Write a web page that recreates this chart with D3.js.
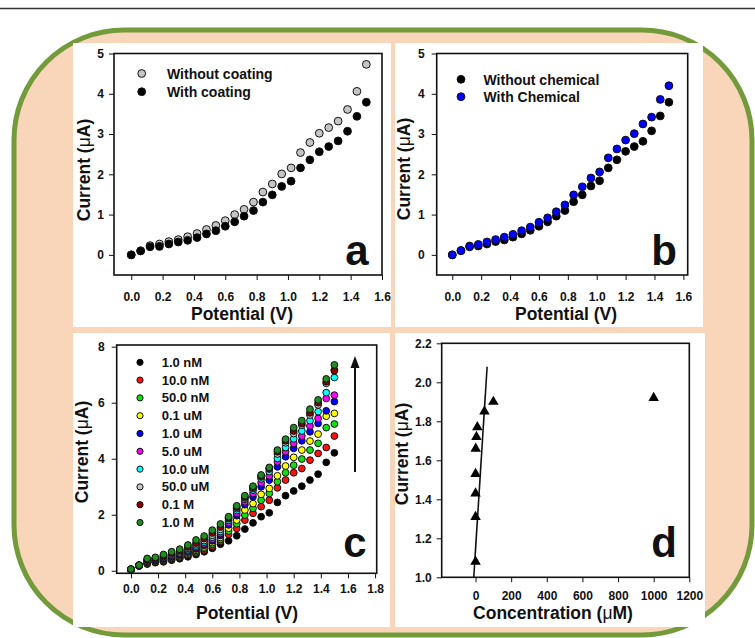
<!DOCTYPE html>
<html><head><meta charset="utf-8">
<script src="https://cdn.jsdelivr.net/npm/d3@7"></script>
<style>
html,body{margin:0;padding:0;background:#fff;}
svg{display:block;}
text{font-family:"Liberation Sans",Arial,Helvetica,sans-serif;font-weight:bold;fill:#111;}
</style></head><body>
<svg id="chart" width="755" height="638"></svg>
<script>
// ---------------- DATA ----------------
const potential = [0,0.06,0.12,0.18,0.24,0.30,0.36,0.42,0.48,0.54,0.60,0.66,0.72,0.78,0.84,0.90,0.96,1.02,1.08,1.14,1.20,1.26,1.32,1.38,1.44,1.50];

// panel a
const withoutCoating = [0,0.10,0.23,0.27,0.33,0.38,0.45,0.53,0.63,0.73,0.85,1.00,1.13,1.31,1.56,1.76,2.01,2.16,2.54,2.79,3.02,3.16,3.32,3.61,4.06,4.73];
const withCoating    = [0,0.10,0.20,0.21,0.27,0.32,0.36,0.43,0.52,0.60,0.71,0.82,0.96,1.10,1.31,1.49,1.70,1.83,2.16,2.36,2.56,2.69,2.83,3.07,3.44,3.79];

// panel b
const withoutChemical = [0,0.10,0.20,0.22,0.27,0.33,0.37,0.44,0.52,0.61,0.71,0.82,0.96,1.10,1.32,1.49,1.71,1.84,2.16,2.36,2.57,2.69,2.82,3.08,3.45,3.79];
const withChemical    = [0,0.11,0.22,0.26,0.32,0.38,0.44,0.51,0.60,0.69,0.81,0.92,1.07,1.24,1.49,1.69,1.91,2.06,2.41,2.63,2.85,3.01,3.25,3.42,3.86,4.20];

// panel c
const concLabelsC = ["1.0 nM","10.0 nM","50.0 nM","0.1 uM","1.0 uM","5.0 uM","10.0 uM","50.0 uM","0.1 M","1.0 M"];
const c_1nM   = [0.02,0.17,0.24,0.29,0.32,0.38,0.43,0.50,0.58,0.68,0.80,0.95,1.07,1.25,1.49,1.71,1.93,2.07,2.44,2.68,2.85,3.02,3.24,3.45,3.87,4.21];
const c_10nM  = [0.03,0.17,0.26,0.31,0.35,0.41,0.47,0.55,0.63,0.74,0.88,1.05,1.30,1.51,1.81,2.05,2.29,2.52,2.96,3.24,3.50,3.65,3.95,4.19,4.40,4.81];
const c_50nM  = [0.03,0.18,0.28,0.33,0.38,0.44,0.50,0.59,0.68,0.80,0.95,1.12,1.42,1.68,1.99,2.23,2.52,2.76,3.18,3.50,3.77,3.99,4.31,4.55,5.11,5.24];
const c_01uM  = [0.04,0.18,0.30,0.35,0.41,0.47,0.54,0.63,0.73,0.85,1.01,1.19,1.52,1.81,2.17,2.40,2.73,2.94,3.39,3.74,4.05,4.31,4.63,4.88,5.52,5.62];
const c_1uM   = [0.04,0.19,0.32,0.37,0.43,0.50,0.57,0.67,0.78,0.91,1.07,1.26,1.64,1.97,2.36,2.64,3.00,3.24,3.71,4.07,4.37,4.64,4.96,5.26,5.71,6.04];
const c_5uM   = [0.05,0.19,0.34,0.39,0.46,0.53,0.61,0.71,0.83,0.96,1.13,1.33,1.72,2.06,2.46,2.76,3.14,3.39,3.89,4.25,4.55,4.81,5.17,5.44,6.15,6.27];
const c_10uM  = [0.05,0.19,0.36,0.41,0.49,0.56,0.64,0.75,0.88,1.02,1.20,1.40,1.80,2.15,2.55,2.88,3.28,3.54,4.01,4.40,4.71,4.99,5.36,5.68,6.36,6.90];
const c_50uM  = [0.05,0.20,0.38,0.43,0.51,0.59,0.68,0.80,0.93,1.08,1.27,1.48,1.86,2.22,2.60,2.94,3.35,3.63,4.17,4.57,4.90,5.20,5.56,5.92,6.69,7.17];
const c_01M   = [0.06,0.20,0.40,0.45,0.54,0.63,0.72,0.85,0.99,1.15,1.35,1.56,1.89,2.27,2.63,2.98,3.38,3.66,4.25,4.64,4.99,5.26,5.64,6.00,6.75,7.14];
const c_1M    = [0.06,0.20,0.44,0.48,0.58,0.68,0.77,0.92,1.10,1.24,1.45,1.67,1.93,2.32,2.68,3.02,3.42,3.69,4.31,4.70,5.11,5.36,5.77,6.10,6.85,7.35];
const seriesC = [c_1nM,c_10nM,c_50nM,c_01uM,c_1uM,c_5uM,c_10uM,c_50uM,c_01M,c_1M];

// panel d
const concentrationD = [0.001,0.01,0.05,0.1,1,5,10,50,100,1000];
const currentD       = [1.08,1.31,1.43,1.53,1.66,1.72,1.77,1.85,1.90,1.92];
const fitConc    = [-10,65];
const fitCurrent = [1.0,2.08];

// tick values
const ticksPotAB = [0,0.2,0.4,0.6,0.8,1.0,1.2,1.4,1.6];
const ticksPotC  = [0,0.2,0.4,0.6,0.8,1.0,1.2,1.4,1.6,1.8];
const ticksCurAB = [0,1,2,3,4,5];
const ticksCurC  = [0,2,4,6,8];
const ticksConcD = [0,200,400,600,800,1000,1200];
const ticksCurD  = [1.0,1.2,1.4,1.6,1.8,2.0,2.2];

// ---------------- STYLE ----------------
const colorsC = ["#000000","#ff1010","#10e010","#ffff00","#0000ff","#ff00ff","#00ffff","#c8c8c8","#8b0000","#1e8c1e"];
const svg = d3.select("#chart");

svg.append("line").attr("x1",0).attr("x2",755).attr("y1",8.5).attr("y2",8.5)
  .attr("stroke","#333").attr("stroke-width",1.5);
svg.append("rect").attr("x",14).attr("y",30).attr("width",738).attr("height",605)
  .attr("rx",110).attr("ry",110).attr("fill","#f9d5b9").attr("stroke","#739b3b").attr("stroke-width",5);

[[73,43,318,284],[395,43,308,284],[73,333,317,294],[395,333,310,294]].forEach(r=>{
  svg.append("rect").attr("x",r[0]).attr("y",r[1]).attr("width",r[2]).attr("height",r[3]).attr("fill","#fff");
});

function makePanel(o){
  const x = d3.scaleLinear().domain(o.xDom).range([o.x0,o.x1]);
  const y = d3.scaleLinear().domain(o.yDom).range([o.y1,o.y0]);
  const g = svg.append("g");
  const xa = g.append("g").attr("transform",`translate(0,${o.y1})`).attr("color","#111")
    .call(d3.axisBottom(x).tickValues(o.xTicks).tickFormat(o.xFmt).tickSize(5).tickSizeOuter(0).tickPadding(o.xPad));
  xa.select(".domain").remove();
  xa.selectAll("text").style("font-size","12px");
  const ya = g.append("g").attr("transform",`translate(${o.x0},0)`).attr("color","#111")
    .call(d3.axisLeft(y).tickValues(o.yTicks).tickFormat(o.yFmt).tickSize(5).tickSizeOuter(0).tickPadding(o.yPad));
  ya.select(".domain").remove();
  ya.selectAll("text").style("font-size","12px");
  g.append("rect").attr("x",o.x0).attr("y",o.y0).attr("width",o.x1-o.x0).attr("height",o.y1-o.y0)
    .attr("fill","none").attr("stroke","#111").attr("stroke-width",1.6);
  // titles
  const xt = g.append("text").attr("x",o.xtX).attr("y",o.xtY).attr("text-anchor","middle").style("font-size","17.5px");
  xt.append("tspan").text(o.xTitle[0]);
  if (o.xTitle.length>1){ xt.append("tspan").style("font-weight","normal").text(o.xTitle[1]); xt.append("tspan").text(o.xTitle[2]); }
  const yt = g.append("text").attr("transform",`translate(${o.ytX},${o.ytY}) rotate(-90)`).attr("text-anchor","middle").style("font-size","17.5px");
  yt.append("tspan").text("Current (");
  yt.append("tspan").style("font-weight","normal").text("\u03bc");
  yt.append("tspan").text("A)");
  g.append("text").attr("x",o.lx).attr("y",o.ly).attr("text-anchor","middle").style("font-size","42px").text(o.letter);
  return {x,y,g};
}

const fmt1 = d3.format(".1f"), fmtD = d3.format("d");

// ---- panel a
const A = makePanel({x0:114,x1:382,y0:53.5,y1:275,xDom:[-0.11,1.6],yDom:[-0.5,5],xTicks:ticksPotAB,yTicks:ticksCurAB,
  xFmt:fmt1,yFmt:fmtD,xPad:12,yPad:5,xTitle:["Potential (V)"],xtX:242,xtY:320,ytX:90,ytY:170,letter:"a",lx:357,ly:265});
[[withoutCoating,"#c4c4c4"],[withCoating,"#000"]].forEach(([s,c])=>{
  A.g.selectAll(null).data(potential).enter().append("circle")
    .attr("cx",(d)=>A.x(d)).attr("cy",(d,i)=>A.y(s[i])).attr("r",3.9)
    .attr("fill",c).attr("stroke","#111").attr("stroke-width",1);
});
[["Without coating","#c4c4c4",73.5,78.5],["With coating","#000",91.7,97]].forEach(([t,c,cy,ty])=>{
  A.g.append("circle").attr("cx",141.7).attr("cy",cy).attr("r",3.9).attr("fill",c).attr("stroke","#111");
  A.g.append("text").attr("x",167).attr("y",ty).style("font-size","14px").text(t);
});

// ---- panel b
const B = makePanel({x0:436.7,x1:687.7,y0:53.5,y1:275,xDom:[-0.108,1.63],yDom:[-0.5,5],xTicks:ticksPotAB,yTicks:ticksCurAB,
  xFmt:fmt1,yFmt:fmtD,xPad:12,yPad:7,xTitle:["Potential (V)"],xtX:566,xtY:320,ytX:410,ytY:169,letter:"b",lx:664,ly:265});
[[withoutChemical,"#000"],[withChemical,"#0000ff"]].forEach(([s,c])=>{
  B.g.selectAll(null).data(potential).enter().append("circle")
    .attr("cx",(d)=>B.x(d)).attr("cy",(d,i)=>B.y(s[i])).attr("r",3.9)
    .attr("fill",c).attr("stroke","#111").attr("stroke-width",1);
});
[["Without chemical","#000",79.3,84.5],["With Chemical","#0000ff",96.7,102]].forEach(([t,c,cy,ty])=>{
  B.g.append("circle").attr("cx",461).attr("cy",cy).attr("r",3.9).attr("fill",c).attr("stroke","#111");
  B.g.append("text").attr("x",483.5).attr("y",ty).style("font-size","14px").text(t);
});

// ---- panel c
const C = makePanel({x0:116.7,x1:376.7,y0:345,y1:573.3,xDom:[-0.105,1.812],yDom:[-0.09,8.06],xTicks:ticksPotC,yTicks:ticksCurC,
  xFmt:fmt1,yFmt:fmtD,xPad:6,yPad:7,xTitle:["Potential (V)"],xtX:247,xtY:619,ytX:88,ytY:452,letter:"c",lx:355,ly:557});
seriesC.forEach((s,k)=>{
  C.g.selectAll(null).data(potential).enter().append("circle")
    .attr("cx",(d)=>C.x(d)).attr("cy",(d,i)=>C.y(s[i])).attr("r",3.4)
    .attr("fill",colorsC[k]).attr("stroke","#111").attr("stroke-width",1);
});
concLabelsC.forEach((t,k)=>{
  const cy = 362.3 + k*17.8;
  C.g.append("circle").attr("cx",140).attr("cy",cy).attr("r",3.1).attr("fill",colorsC[k]).attr("stroke","#111");
  C.g.append("text").attr("x",161.7).attr("y",cy+4.5).style("font-size","13px").text(t);
});
C.g.append("line").attr("x1",355).attr("x2",355).attr("y1",472).attr("y2",366).attr("stroke","#111").attr("stroke-width",2);
C.g.append("path").attr("d","M355,356 L350.5,368 L359.5,368 Z").attr("fill","#111");

// ---- panel d
const D = makePanel({x0:441.7,x1:689.3,y0:343.3,y1:577.3,xDom:[-190,1200],yDom:[1.0,2.2],xTicks:ticksConcD,yTicks:ticksCurD,
  xFmt:fmtD,yFmt:fmt1,xPad:9,yPad:5,xTitle:["Concentration (","\u03bc","M)"],xtX:553,xtY:619,ytX:408,ytY:454,letter:"d",lx:664,ly:557});
D.g.append("path").datum(fitConc.map((c,i)=>[c,fitCurrent[i]]))
  .attr("d",d3.line().x(d=>D.x(d[0])).y(d=>D.y(d[1]))).attr("fill","none").attr("stroke","#111").attr("stroke-width",1.6);
D.g.selectAll(null).data(concentrationD).enter().append("path")
  .attr("d",d3.symbol().type(d3.symbolTriangle).size(48))
  .attr("transform",(d,i)=>`translate(${D.x(d)},${D.y(currentD[i])})`).attr("fill","#000");
</script>
</body></html>
